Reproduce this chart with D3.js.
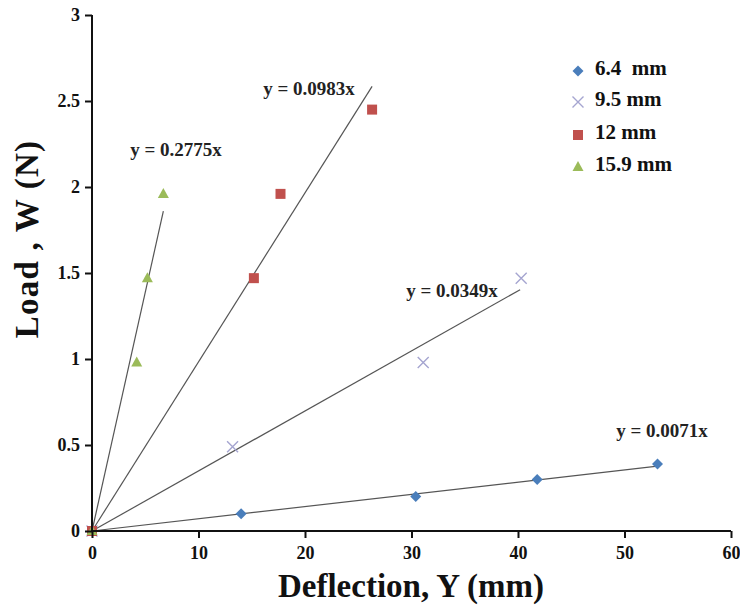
<!DOCTYPE html>
<html><head><meta charset="utf-8">
<script src="https://cdn.jsdelivr.net/npm/d3@7/dist/d3.min.js"></script>
<style>body{margin:0;background:#fff}</style>
</head><body>
<svg id="c" width="740" height="609"></svg>
<script>
const seriesNames = ["6.4  mm", "9.5 mm", "12 mm", "15.9 mm"];
const s64x = [0, 14.0, 30.4, 41.8, 53.1];
const s64y = [0, 0.1, 0.2, 0.3, 0.39];
const s95x = [0, 13.2, 31.1, 40.3];
const s95y = [0, 0.49, 0.98, 1.47];
const s12x = [0, 15.2, 17.7, 26.3];
const s12y = [0, 1.47, 1.96, 2.45];
const s159x = [0, 4.2, 5.2, 6.7];
const s159y = [0, 0.98, 1.47, 1.96];
const slopes = [0.0071, 0.0349, 0.0983, 0.2775];
const trendEnds = [53.1, 40.2, 26.3, 6.7];
const eqLabels = ["y = 0.0071x", "y = 0.0349x", "y = 0.0983x", "y = 0.2775x"];
const xTicks = [0, 10, 20, 30, 40, 50, 60];
const yTicks = [0, 0.5, 1, 1.5, 2, 2.5, 3];

const svg = d3.select("#c");
const x = d3.scaleLinear().domain([0, 60]).range([92, 731]);
const y = d3.scaleLinear().domain([0, 3]).range([531, 15]);
const font = "'Liberation Serif','Times New Roman',serif";

const series = [
  {xs: s64x, ys: s64y, color: "#4a7ebb", sym: "diamond"},
  {xs: s95x, ys: s95y, color: "#a5a5d0", sym: "cross"},
  {xs: s12x, ys: s12y, color: "#c0504d", sym: "square"},
  {xs: s159x, ys: s159y, color: "#9bbb59", sym: "triangle"}
];

// trendlines
series.forEach((s, i) => {
  svg.append("line")
    .attr("x1", x(0)).attr("y1", y(0))
    .attr("x2", x(trendEnds[i])).attr("y2", y(slopes[i] * trendEnds[i]))
    .attr("stroke", "#555").attr("stroke-width", 1.2);
});

function drawMarker(g, sym, color, cx, cy) {
  if (sym === "diamond") {
    g.append("path").attr("d", `M${cx},${cy - 5.5}L${cx + 5.5},${cy}L${cx},${cy + 5.5}L${cx - 5.5},${cy}Z`)
      .attr("fill", color);
  } else if (sym === "square") {
    g.append("rect").attr("x", cx - 5).attr("y", cy - 5).attr("width", 10).attr("height", 10).attr("fill", color);
  } else if (sym === "triangle") {
    g.append("path").attr("d", `M${cx},${cy - 6}L${cx + 5.5},${cy + 4}L${cx - 5.5},${cy + 4}Z`).attr("fill", color);
  } else {
    g.append("path").attr("d", `M${cx - 5.5},${cy - 5.5}L${cx + 5.5},${cy + 5.5}M${cx + 5.5},${cy - 5.5}L${cx - 5.5},${cy + 5.5}`)
      .attr("stroke", color).attr("stroke-width", 1.4).attr("fill", "none");
  }
}

const mg = svg.append("g");
series.forEach(s => {
  s.xs.forEach((v, j) => drawMarker(mg, s.sym, s.color, x(v), y(s.ys[j])));
});

// axes
const xa = svg.append("g").attr("transform", `translate(0,${y(0)})`)
  .call(d3.axisBottom(x).tickValues(xTicks).tickSize(7).tickPadding(8).tickFormat(d3.format("d")));
const ya = svg.append("g").attr("transform", `translate(${x(0)},0)`)
  .call(d3.axisLeft(y).tickValues(yTicks).tickSize(7).tickPadding(5).tickFormat(d => d));
[xa, ya].forEach(a => {
  a.attr("font-family", font);
  a.select(".domain").attr("stroke", "#111").attr("stroke-width", 2);
  a.selectAll(".tick line").attr("stroke", "#111").attr("stroke-width", 2);
  a.selectAll(".tick text").attr("font-family", font).attr("font-weight", "bold")
    .attr("font-size", 18).attr("fill", "#111");
});
xa.select(".domain").attr("d", `M${x(0)},0H${x(60)}`);
ya.select(".domain").attr("d", `M0,${y(3)}V${y(0)}`);

// equation labels
const eqPos = [[662, 437], [452, 297], [309, 95], [176, 156]];
eqLabels.forEach((t, i) => {
  svg.append("text").attr("x", eqPos[i][0]).attr("y", eqPos[i][1]).attr("text-anchor", "middle")
    .attr("font-family", font).attr("font-weight", "bold").attr("font-size", 19).attr("fill", "#222").text(t);
});

// legend
const legMarkY = [71, 102, 135, 167];
const legTextY = [75, 106, 139, 171];
series.forEach((s, i) => {
  drawMarker(svg, s.sym, s.color, 578, legMarkY[i]);
  svg.append("text").attr("x", 595).attr("y", legTextY[i]).attr("font-family", font)
    .attr("font-weight", "bold").attr("font-size", 21).attr("fill", "#111")
    .attr("xml:space", "preserve").style("white-space", "pre").text(seriesNames[i]);
});

// axis titles
svg.append("text").attr("x", 411).attr("y", 597).attr("text-anchor", "middle")
  .attr("font-family", font).attr("font-weight", "bold").attr("font-size", 33).attr("fill", "#111")
  .text("Deflection, Y (mm)");
svg.append("text").attr("transform", `translate(38,239) rotate(-90)`).attr("text-anchor", "middle")
  .attr("font-family", font).attr("font-weight", "bold").attr("font-size", 33).attr("fill", "#111")
  .attr("letter-spacing", 1.2).text("Load , W (N)");
</script>
</body></html>
